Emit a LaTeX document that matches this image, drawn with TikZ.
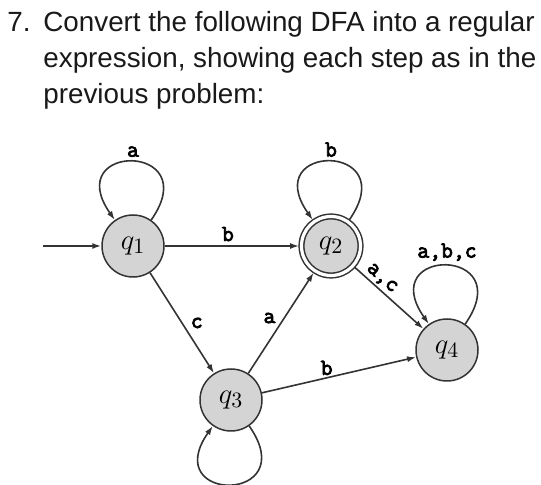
\documentclass[tikz,border=0pt]{standalone}
\usepackage{fontspec}
\usetikzlibrary{arrows.meta}
\newfontfamily\titlefont{Liberation Sans}
\newfontfamily\lblfont[FakeBold=3.5]{Latin Modern Mono}

\tikzset{
  state/.style={circle, draw=black!80, fill=black!17, line width=0.75pt,
    minimum size=31pt, inner sep=0pt, font=\fontsize{15}{17}\selectfont},
  accepting/.style={double=white, double distance=1.6pt, minimum size=29.5pt,
    outer sep=1.2pt},
  trans/.style={draw=black!80, line width=0.8pt, -{Latex[length=4.5pt,width=3pt]}},
  lbl/.style={font=\lblfont\fontsize{11.5}{12}\selectfont, inner sep=2pt},
  line/.style={font=\titlefont\fontsize{13.9}{15}\selectfont, text=black!90,
    anchor=base west, inner sep=0pt},
}

\begin{document}
\begin{tikzpicture}[x=0.5pt, y=0.5pt]
  \useasboundingbox (0,0) rectangle (541,-485);

  % question text
  \node[line] (num) at (7,-32) {7.};
  \node[line] (l1) at (43,-32) {Convert the following DFA into a regular};
  \node[line] (l2) at (43,-68) {expression, showing each step as in the};
  \node[line] (l3) at (43,-104) {previous problem:};

  % states
  \node [state] (q1) at (133,-246) {$q_1$};
  \node [state, accepting] (q2) at (331,-246) {$q_2$};
  \node [state] (q3) at (231,-400) {$q_3$};
  \node [state] (q4) at (447,-350) {$q_4$};
  \coordinate (start) at (43,-246);

  % transitions
  \draw [trans] (start) -- (q1);
  \draw [trans] (q1) -- node[lbl, above, pos=0.47] {b} (q2);
  \draw [trans] (q1) -- node[lbl, right, pos=0.5, xshift=2pt] {c} (q3);
  \draw [trans] (q3) -- node[lbl, left, pos=0.55, xshift=-2pt] {a} (q2);
  \draw [trans] (q2) -- node[lbl, sloped, above, pos=0.3, inner sep=1pt] {a,c} (q4);
  \draw [trans] (q3) -- node[lbl, above, pos=0.42, inner sep=1pt] {b} (q4);

  % self loops
  \draw [trans] (q1) to[out=55, in=125, distance=47.5pt] node[lbl, above] {a} (q1);
  \draw [trans] (q2) to[out=55, in=125, distance=47.5pt] node[lbl, above] {b} (q2);
  \draw [trans] (q4) to[out=55, in=125, distance=47.5pt] node[lbl, above] {a,b,c} (q4);
  \draw [trans] (q3) to[out=-55, in=-125, distance=47.5pt] (q3);
\end{tikzpicture}
\end{document}
